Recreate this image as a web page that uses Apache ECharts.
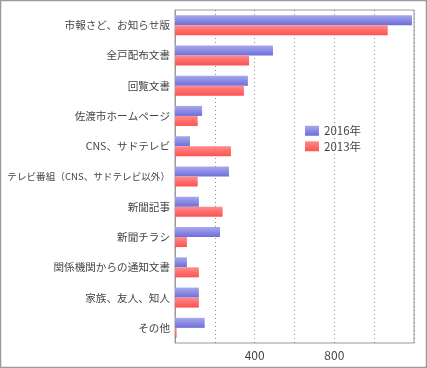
<!DOCTYPE html>
<html><head><meta charset="utf-8">
<script src="https://cdn.jsdelivr.net/npm/echarts@6/dist/echarts.min.js"></script>
<style>html,body{margin:0;padding:0;background:#fff}#c{width:427px;height:368px}</style>
</head><body><div id="c"></div>
<script>
const categories = ["市報さど、お知らせ版","全戸配布文書","回覧文書","佐渡市ホームページ","CNS、サドテレビ","テレビ番組（CNS、サドテレビ以外）","新聞記事","新聞チラシ","関係機関からの通知文書","家族、友人、知人","その他"];
const seriesNames = ["2016年","2013年"];
const values2016 = [1190,492,366,136,75,271,120,226,60,120,149];
const values2013 = [1068,372,346,114,281,114,239,60,120,120,8];
const xTickLabels = [400,800];

const font = '"Noto Sans CJK JP", "Noto Sans", sans-serif';
const chart = echarts.init(document.getElementById('c'));
function grad(a,b){return new echarts.graphic.LinearGradient(0,0,0,1,[{offset:0,color:a},{offset:1,color:b}]);}
const catData = categories.map(function(c){
  return c.length > 12 ? {value:c, textStyle:{fontSize:9.6}} : c;
});
chart.setOption({
  animation:false,
  textStyle:{fontFamily:font},
  graphic:[{type:'rect',shape:{x:0.5,y:0.5,width:426,height:367},style:{fill:'none',stroke:'#9a9a9a',lineWidth:1.5},silent:true}],
  grid:{left:175,right:13,top:10,bottom:25,show:true,borderColor:'#9a9a9a',borderWidth:1,backgroundColor:'transparent',
    containLabel:false,outerBoundsMode:'none'},
  legend:{orient:'vertical',left:305,top:125,padding:0,itemWidth:14,itemHeight:10,itemGap:4,icon:'rect',
    textStyle:{fontSize:11.5,color:'#444',fontFamily:font},data:seriesNames},
  xAxis:{type:'value',min:0,max:1200,interval:200,
    axisLine:{show:false},axisTick:{show:false},
    splitLine:{show:true,lineStyle:{color:'#888',type:[1,3],width:1}},
    axisLabel:{fontSize:12,color:'#444',margin:6,
      formatter:function(v){return xTickLabels.indexOf(v)>=0?String(v):'';}}},
  yAxis:{type:'category',data:catData,inverse:true,
    axisLine:{show:true,lineStyle:{color:'#9a9a9a'}},axisTick:{show:false},
    axisLabel:{fontSize:10.6,color:'#444',margin:5}},
  series:[
    {name:seriesNames[0],type:'bar',data:values2016,barWidth:10,barGap:'0%',
      itemStyle:{color:grad('#a8a8ec','#6e6edb')}},
    {name:seriesNames[1],type:'bar',data:values2013,barWidth:10,barGap:'0%',
      itemStyle:{color:grad('#ff8c8c','#ff5050')}}
  ]
});
</script></body></html>
